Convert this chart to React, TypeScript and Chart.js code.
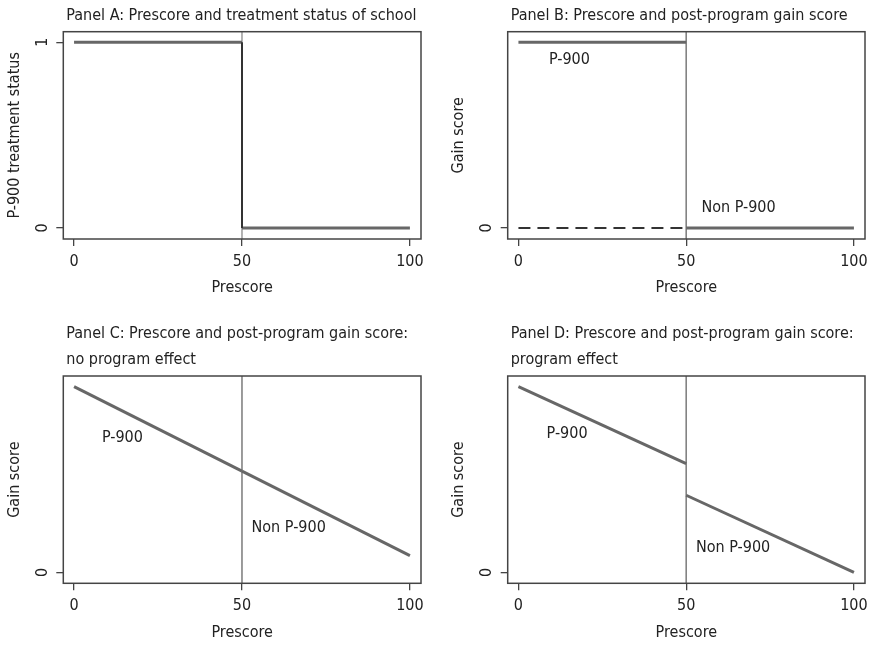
import React, { useEffect, useRef } from 'react';
import { Chart, registerables } from 'chart.js';
Chart.register(...registerables);

const FONT = "'Liberation Sans Narrow', 'DejaVu Sans Condensed', 'Arial Narrow', sans-serif";
const FONT_SIZE = 16;

// Axis ranges and ticks
const X_MIN = -3.2;
const X_MAX = 103.3;
const Y_MIN = -0.059;
const Y_MAX = 1.057;
const X_TICKS = [0, 50, 100];
const CUTOFF = 50;
const X_TITLE = 'Prescore';

// Panel A: treatment status
const A_TREATED_X = [0, 50];
const A_TREATED_Y = [1, 1];
const A_CONTROL_X = [50, 100];
const A_CONTROL_Y = [0, 0];
const A_JUMP_X = [50, 50];
const A_JUMP_Y = [1, 0];
const A_Y_TICKS = [0, 1];

// Panel B: gain score
const B_TREATED_X = [0, 50];
const B_TREATED_Y = [1, 1];
const B_CONTROL_X = [50, 100];
const B_CONTROL_Y = [0, 0];
const B_COUNTER_X = [0, 50];
const B_COUNTER_Y = [0, 0];

// Panel C: no program effect
const C_TREATED_X = [0, 50];
const C_TREATED_Y = [1.0, 0.545];
const C_CONTROL_X = [50, 100];
const C_CONTROL_Y = [0.545, 0.09];

// Panel D: program effect
const D_TREATED_X = [0, 50];
const D_TREATED_Y = [1.0, 0.585];
const D_CONTROL_X = [50, 100];
const D_CONTROL_Y = [0.415, 0.0];

const GAIN_Y_TICKS = [0];

// Annotation labels
const NOTE_TEXT = ['P-900', 'Non P-900'];
const B_NOTE_X = [15.2, 65.6];
const B_NOTE_Y = [0.905, 0.11];
const C_NOTE_X = [14.4, 63.9];
const C_NOTE_Y = [0.724, 0.237];
const D_NOTE_X = [14.5, 64.0];
const D_NOTE_Y = [0.743, 0.132];

const LINE_COLOR = '#676767';
const CUT_COLOR = '#7a7a7a';
const TEXT_COLOR = '#222';
const AXIS_COLOR = '#444';

const YW = 58.1; // y scale width
const XH = 58.9; // x scale height

const cutLine = { x: [CUTOFF, CUTOFF], y: [Y_MIN, Y_MAX], color: CUT_COLOR, width: 1.5 };

const PANELS = [
  {
    cx: 0, cy: 0, cw: 440, ch: 300,
    area: { l: 63.3, t: 31.7, r: 421, b: 239 },
    title: ['Panel A: Prescore and treatment status of school'],
    yTitle: 'P-900 treatment status',
    yTicks: A_Y_TICKS,
    series: [
      { x: A_JUMP_X, y: A_JUMP_Y, color: '#333', width: 2 },
      { x: A_TREATED_X, y: A_TREATED_Y, color: LINE_COLOR, width: 3 },
      { x: A_CONTROL_X, y: A_CONTROL_Y, color: LINE_COLOR, width: 3 },
      { ...cutLine, color: '#9a9a9a' },
    ],
    notes: { x: [], y: [] },
  },
  {
    cx: 440, cy: 0, cw: 429, ch: 300,
    area: { l: 507.7, t: 31.7, r: 865, b: 239 },
    title: ['Panel B: Prescore and post-program gain score'],
    yTitle: 'Gain score',
    yTicks: GAIN_Y_TICKS,
    series: [
      { x: B_TREATED_X, y: B_TREATED_Y, color: LINE_COLOR, width: 3 },
      { x: B_CONTROL_X, y: B_CONTROL_Y, color: LINE_COLOR, width: 3 },
      { x: B_COUNTER_X, y: B_COUNTER_Y, color: '#333', width: 2, dash: [12, 7] },
      cutLine,
    ],
    notes: { x: B_NOTE_X, y: B_NOTE_Y },
  },
  {
    cx: 0, cy: 300, cw: 440, ch: 346,
    area: { l: 63.3, t: 376, r: 421, b: 583.3 },
    title: ['Panel C: Prescore and post-program gain score:', 'no program effect'],
    yTitle: 'Gain score',
    yTicks: GAIN_Y_TICKS,
    series: [
      { x: C_TREATED_X, y: C_TREATED_Y, color: LINE_COLOR, width: 3 },
      { x: C_CONTROL_X, y: C_CONTROL_Y, color: LINE_COLOR, width: 3 },
      cutLine,
    ],
    notes: { x: C_NOTE_X, y: C_NOTE_Y },
  },
  {
    cx: 440, cy: 300, cw: 429, ch: 346,
    area: { l: 507.7, t: 376, r: 865, b: 583.3 },
    title: ['Panel D: Prescore and post-program gain score:', 'program effect'],
    yTitle: 'Gain score',
    yTicks: GAIN_Y_TICKS,
    series: [
      { x: D_TREATED_X, y: D_TREATED_Y, color: LINE_COLOR, width: 3 },
      { x: D_CONTROL_X, y: D_CONTROL_Y, color: LINE_COLOR, width: 3 },
      cutLine,
    ],
    notes: { x: D_NOTE_X, y: D_NOTE_Y },
  },
];

function makeChart(canvas: HTMLCanvasElement, p: any) {
  const font = { family: FONT, size: FONT_SIZE, lineHeight: 1.2 };
  const decor = {
    id: 'decor',
    afterDatasetsDraw(chart: any) {
      const { ctx, chartArea: a, scales } = chart;
      ctx.save();
      ctx.strokeStyle = AXIS_COLOR;
      ctx.lineWidth = 1.5;
      ctx.strokeRect(a.left, a.top, a.right - a.left, a.bottom - a.top);
      ctx.font = `${FONT_SIZE}px ${FONT}`;
      ctx.fillStyle = TEXT_COLOR;
      ctx.textAlign = 'left';
      ctx.textBaseline = 'middle';
      const n = p.title.length;
      p.title.forEach((line: string, i: number) => {
        ctx.fillText(line, a.left + 3, a.top - 16.2 - (n - 1 - i) * 25.5);
      });
      ctx.textAlign = 'center';
      p.notes.x.forEach((nx: number, i: number) => {
        ctx.fillText(NOTE_TEXT[i], scales.x.getPixelForValue(nx), scales.y.getPixelForValue(p.notes.y[i]));
      });
      ctx.restore();
    },
  };
  const grid = { drawOnChartArea: false, drawTicks: true, tickLength: 7, color: AXIS_COLOR, lineWidth: 1.3 };
  return new Chart(canvas, {
    type: 'scatter',
    data: {
      datasets: p.series.map((s: any) => ({
        data: s.x.map((x: number, i: number) => ({ x, y: s.y[i] })),
        showLine: true,
        borderColor: s.color,
        borderWidth: s.width,
        borderDash: s.dash || [],
        pointRadius: 0,
        pointHoverRadius: 0,
        fill: false,
        tension: 0,
      })),
    },
    options: {
      animation: false,
      responsive: false,
      events: [],
      layout: {
        padding: {
          left: p.area.l - YW - p.cx,
          top: p.area.t - p.cy,
          right: p.cx + p.cw - p.area.r,
          bottom: p.cy + p.ch - (p.area.b + XH),
        },
      },
      plugins: { legend: { display: false }, tooltip: { enabled: false }, title: { display: false } },
      scales: {
        x: {
          type: 'linear',
          min: X_MIN,
          max: X_MAX,
          afterBuildTicks: (s: any) => { s.ticks = X_TICKS.map((v) => ({ value: v })); },
          afterFit: (s: any) => { s.height = XH; s.paddingLeft = 0; s.paddingRight = 0; },
          grid,
          border: { display: false },
          ticks: { font, color: TEXT_COLOR, padding: 6, maxRotation: 0, autoSkip: false },
          title: { display: true, text: X_TITLE, font, color: TEXT_COLOR, padding: { top: 0, bottom: 0 } },
        },
        y: {
          type: 'linear',
          min: Y_MIN,
          max: Y_MAX,
          afterBuildTicks: (s: any) => { s.ticks = p.yTicks.map((v: number) => ({ value: v })); },
          afterFit: (s: any) => { s.width = YW; s.paddingTop = 0; s.paddingBottom = 0; },
          grid,
          border: { display: false },
          ticks: { font, color: TEXT_COLOR, padding: 9, minRotation: 90, maxRotation: 90, crossAlign: 'center', autoSkip: false },
          title: { display: true, text: p.yTitle, font, color: TEXT_COLOR, padding: { top: 0, bottom: 0 } },
        },
      },
    },
    plugins: [decor],
  } as any);
}

export default function App() {
  const refs = useRef<(HTMLCanvasElement | null)[]>([]);
  useEffect(() => {
    const charts = PANELS.map((p, i) => makeChart(refs.current[i] as HTMLCanvasElement, p));
    return () => charts.forEach((c) => c.destroy());
  }, []);
  return (
    <div style={{ position: 'absolute', left: 0, top: 0, width: 869, height: 646, background: '#fff' }}>
      {PANELS.map((p, i) => (
        <canvas
          key={i}
          ref={(el) => { refs.current[i] = el; }}
          width={p.cw}
          height={p.ch}
          style={{ position: 'absolute', left: p.cx, top: p.cy, width: p.cw, height: p.ch }}
        />
      ))}
    </div>
  );
}
